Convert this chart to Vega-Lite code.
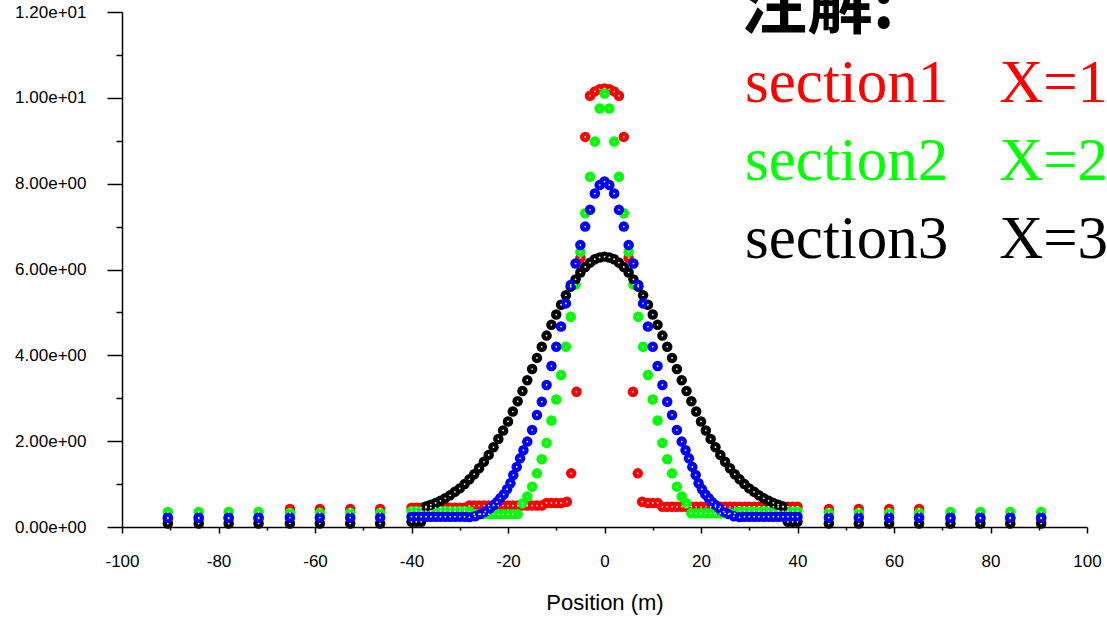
{
"$schema": "https://vega.github.io/schema/vega-lite/v6.json",
"width": 965, "height": 515,
"autosize": {"type": "none"},
"padding": {"left": 122, "top": 12, "right": 20, "bottom": 90},
"background": "white",
"config": {"view": {"stroke": null}},
"data": {"values": [
{"series":"section1","x":-90.5,"y":0.2},{"series":"section1","x":-84.1,"y":0.2},{"series":"section1","x":-77.9,"y":0.2},{"series":"section1","x":-71.7,"y":0.2},
{"series":"section1","x":-65.2,"y":0.42},{"series":"section1","x":-59,"y":0.42},{"series":"section1","x":-52.7,"y":0.42},{"series":"section1","x":-46.5,"y":0.42},
{"series":"section1","x":-40,"y":0.45},{"series":"section1","x":-39,"y":0.45},{"series":"section1","x":-38,"y":0.45},{"series":"section1","x":-37,"y":0.45},{"series":"section1","x":-36,"y":0.45},{"series":"section1","x":-35,"y":0.45},{"series":"section1","x":-34,"y":0.45},{"series":"section1","x":-33,"y":0.45},{"series":"section1","x":-32,"y":0.45},{"series":"section1","x":-31,"y":0.45},{"series":"section1","x":-30,"y":0.45},{"series":"section1","x":-29,"y":0.45},
{"series":"section1","x":-28,"y":0.5},{"series":"section1","x":-27,"y":0.5},{"series":"section1","x":-26,"y":0.5},{"series":"section1","x":-25,"y":0.5},{"series":"section1","x":-24,"y":0.5},{"series":"section1","x":-23,"y":0.5},{"series":"section1","x":-22,"y":0.5},{"series":"section1","x":-21,"y":0.5},{"series":"section1","x":-20,"y":0.5},{"series":"section1","x":-19,"y":0.5},{"series":"section1","x":-18,"y":0.5},{"series":"section1","x":-17,"y":0.5},{"series":"section1","x":-16,"y":0.5},{"series":"section1","x":-15,"y":0.5},{"series":"section1","x":-14,"y":0.5},{"series":"section1","x":-13,"y":0.5},
{"series":"section1","x":-12,"y":0.56},{"series":"section1","x":-11,"y":0.56},{"series":"section1","x":-10,"y":0.56},{"series":"section1","x":-9,"y":0.56},
{"series":"section1","x":-7.8,"y":0.59},{"series":"section1","x":-6.9,"y":1.25},{"series":"section1","x":-5.8,"y":3.15},{"series":"section1","x":-5,"y":6.27},{"series":"section1","x":-4,"y":9.09},{"series":"section1","x":-3,"y":10.05},{"series":"section1","x":-2,"y":10.15},{"series":"section1","x":-1,"y":10.2},{"series":"section1","x":0,"y":10.22},{"series":"section1","x":1,"y":10.2},{"series":"section1","x":2,"y":10.15},{"series":"section1","x":3,"y":10.05},{"series":"section1","x":4,"y":9.09},{"series":"section1","x":5,"y":6.27},{"series":"section1","x":5.9,"y":3.15},{"series":"section1","x":6.9,"y":1.25},{"series":"section1","x":7.8,"y":0.59},
{"series":"section1","x":9,"y":0.56},{"series":"section1","x":10,"y":0.56},{"series":"section1","x":11,"y":0.56},
{"series":"section1","x":12,"y":0.47},{"series":"section1","x":13,"y":0.47},{"series":"section1","x":14,"y":0.47},{"series":"section1","x":15,"y":0.47},{"series":"section1","x":16,"y":0.47},{"series":"section1","x":17,"y":0.47},{"series":"section1","x":18,"y":0.47},{"series":"section1","x":19,"y":0.47},{"series":"section1","x":20,"y":0.47},{"series":"section1","x":21,"y":0.47},{"series":"section1","x":22,"y":0.47},{"series":"section1","x":23,"y":0.47},{"series":"section1","x":24,"y":0.47},{"series":"section1","x":25,"y":0.47},{"series":"section1","x":26,"y":0.47},{"series":"section1","x":27,"y":0.47},{"series":"section1","x":28,"y":0.47},{"series":"section1","x":29,"y":0.47},{"series":"section1","x":30,"y":0.47},{"series":"section1","x":31,"y":0.47},{"series":"section1","x":32,"y":0.47},{"series":"section1","x":33,"y":0.47},{"series":"section1","x":34,"y":0.47},{"series":"section1","x":35,"y":0.47},{"series":"section1","x":36,"y":0.47},{"series":"section1","x":37,"y":0.47},{"series":"section1","x":38,"y":0.47},{"series":"section1","x":39,"y":0.47},{"series":"section1","x":40,"y":0.47},
{"series":"section1","x":46.5,"y":0.42},{"series":"section1","x":52.7,"y":0.42},{"series":"section1","x":59,"y":0.42},{"series":"section1","x":65.2,"y":0.42},
{"series":"section1","x":71.7,"y":0.2},{"series":"section1","x":77.9,"y":0.2},{"series":"section1","x":84.1,"y":0.2},{"series":"section1","x":90.5,"y":0.2},

{"series":"section2","x":-90.5,"y":0.35},{"series":"section2","x":-84.1,"y":0.35},{"series":"section2","x":-77.9,"y":0.35},{"series":"section2","x":-71.7,"y":0.35},
{"series":"section2","x":-65.2,"y":0.33},{"series":"section2","x":-59,"y":0.33},{"series":"section2","x":-52.7,"y":0.33},{"series":"section2","x":-46.5,"y":0.33},
{"series":"section2","x":-40,"y":0.37},{"series":"section2","x":-39,"y":0.37},{"series":"section2","x":-38,"y":0.37},{"series":"section2","x":-37,"y":0.37},{"series":"section2","x":-36,"y":0.37},{"series":"section2","x":-35,"y":0.37},{"series":"section2","x":-34,"y":0.37},{"series":"section2","x":-33,"y":0.37},{"series":"section2","x":-32,"y":0.37},{"series":"section2","x":-31,"y":0.37},{"series":"section2","x":-30,"y":0.37},{"series":"section2","x":-29,"y":0.37},{"series":"section2","x":-28,"y":0.37},
{"series":"section2","x":-27,"y":0.3},{"series":"section2","x":-26,"y":0.3},{"series":"section2","x":-25,"y":0.3},{"series":"section2","x":-24,"y":0.3},{"series":"section2","x":-23,"y":0.3},{"series":"section2","x":-22,"y":0.3},{"series":"section2","x":-21,"y":0.3},{"series":"section2","x":-20,"y":0.3},{"series":"section2","x":-19,"y":0.3},{"series":"section2","x":-18,"y":0.3},
{"series":"section2","x":-17,"y":0.55},{"series":"section2","x":-16,"y":0.71},{"series":"section2","x":-15,"y":0.94},{"series":"section2","x":-14,"y":1.25},{"series":"section2","x":-13,"y":1.58},{"series":"section2","x":-12,"y":1.96},{"series":"section2","x":-11,"y":2.48},{"series":"section2","x":-10,"y":2.97},{"series":"section2","x":-9,"y":3.54},{"series":"section2","x":-8,"y":4.2},{"series":"section2","x":-7,"y":4.9},{"series":"section2","x":-6,"y":5.65},{"series":"section2","x":-5,"y":6.41},{"series":"section2","x":-4,"y":7.31},{"series":"section2","x":-3,"y":8.16},{"series":"section2","x":-2,"y":8.98},{"series":"section2","x":-1,"y":9.75},
{"series":"section2","x":0,"y":10.1},
{"series":"section2","x":1,"y":9.75},{"series":"section2","x":2,"y":8.98},{"series":"section2","x":3,"y":8.16},{"series":"section2","x":4,"y":7.31},{"series":"section2","x":5,"y":6.41},{"series":"section2","x":6,"y":5.65},{"series":"section2","x":7,"y":4.9},{"series":"section2","x":8,"y":4.2},{"series":"section2","x":9,"y":3.54},{"series":"section2","x":10,"y":2.97},{"series":"section2","x":11,"y":2.48},{"series":"section2","x":12,"y":1.96},{"series":"section2","x":13,"y":1.58},{"series":"section2","x":14,"y":1.25},{"series":"section2","x":15,"y":0.94},{"series":"section2","x":16,"y":0.71},{"series":"section2","x":17,"y":0.55},
{"series":"section2","x":18,"y":0.32},{"series":"section2","x":19,"y":0.32},{"series":"section2","x":20,"y":0.32},{"series":"section2","x":21,"y":0.32},{"series":"section2","x":22,"y":0.32},{"series":"section2","x":23,"y":0.32},{"series":"section2","x":24,"y":0.32},{"series":"section2","x":25,"y":0.32},{"series":"section2","x":26,"y":0.32},{"series":"section2","x":27,"y":0.32},
{"series":"section2","x":28,"y":0.37},{"series":"section2","x":29,"y":0.37},{"series":"section2","x":30,"y":0.37},{"series":"section2","x":31,"y":0.37},{"series":"section2","x":32,"y":0.37},{"series":"section2","x":33,"y":0.37},{"series":"section2","x":34,"y":0.37},{"series":"section2","x":35,"y":0.37},{"series":"section2","x":36,"y":0.37},{"series":"section2","x":37,"y":0.37},{"series":"section2","x":38,"y":0.37},{"series":"section2","x":39,"y":0.37},{"series":"section2","x":40,"y":0.37},
{"series":"section2","x":46.5,"y":0.33},{"series":"section2","x":52.7,"y":0.33},{"series":"section2","x":59,"y":0.33},{"series":"section2","x":65.2,"y":0.33},
{"series":"section2","x":71.7,"y":0.35},{"series":"section2","x":77.9,"y":0.35},{"series":"section2","x":84.1,"y":0.35},{"series":"section2","x":90.5,"y":0.35},

{"series":"section3","x":-90.5,"y":0.08},{"series":"section3","x":-84.1,"y":0.08},{"series":"section3","x":-77.9,"y":0.08},{"series":"section3","x":-71.7,"y":0.08},{"series":"section3","x":-65.2,"y":0.08},{"series":"section3","x":-59,"y":0.08},{"series":"section3","x":-52.7,"y":0.08},{"series":"section3","x":-46.5,"y":0.08},
{"series":"section3","x":-40,"y":0.12},{"series":"section3","x":-39,"y":0.12},{"series":"section3","x":-38,"y":0.12},
{"series":"section3","x":-37,"y":0.48},{"series":"section3","x":-36,"y":0.52},{"series":"section3","x":-35,"y":0.56},{"series":"section3","x":-34,"y":0.61},{"series":"section3","x":-33,"y":0.67},{"series":"section3","x":-32,"y":0.74},{"series":"section3","x":-31,"y":0.82},{"series":"section3","x":-30,"y":0.9},{"series":"section3","x":-29,"y":1.0},{"series":"section3","x":-28,"y":1.11},{"series":"section3","x":-27,"y":1.23},{"series":"section3","x":-26,"y":1.37},{"series":"section3","x":-25,"y":1.52},{"series":"section3","x":-24,"y":1.68},{"series":"section3","x":-23,"y":1.86},{"series":"section3","x":-22,"y":2.05},{"series":"section3","x":-21,"y":2.25},{"series":"section3","x":-20,"y":2.46},{"series":"section3","x":-19,"y":2.69},{"series":"section3","x":-18,"y":2.93},{"series":"section3","x":-17,"y":3.17},{"series":"section3","x":-16,"y":3.42},{"series":"section3","x":-15,"y":3.68},{"series":"section3","x":-14,"y":3.94},{"series":"section3","x":-13,"y":4.2},{"series":"section3","x":-12,"y":4.46},{"series":"section3","x":-11,"y":4.71},{"series":"section3","x":-10,"y":4.95},{"series":"section3","x":-9,"y":5.18},{"series":"section3","x":-8,"y":5.4},{"series":"section3","x":-7,"y":5.6},{"series":"section3","x":-6,"y":5.77},{"series":"section3","x":-5,"y":5.93},{"series":"section3","x":-4,"y":6.06},{"series":"section3","x":-3,"y":6.16},{"series":"section3","x":-2,"y":6.24},{"series":"section3","x":-1,"y":6.28},
{"series":"section3","x":0,"y":6.3},
{"series":"section3","x":1,"y":6.28},{"series":"section3","x":2,"y":6.24},{"series":"section3","x":3,"y":6.16},{"series":"section3","x":4,"y":6.06},{"series":"section3","x":5,"y":5.93},{"series":"section3","x":6,"y":5.77},{"series":"section3","x":7,"y":5.6},{"series":"section3","x":8,"y":5.4},{"series":"section3","x":9,"y":5.18},{"series":"section3","x":10,"y":4.95},{"series":"section3","x":11,"y":4.71},{"series":"section3","x":12,"y":4.46},{"series":"section3","x":13,"y":4.2},{"series":"section3","x":14,"y":3.94},{"series":"section3","x":15,"y":3.68},{"series":"section3","x":16,"y":3.42},{"series":"section3","x":17,"y":3.17},{"series":"section3","x":18,"y":2.93},{"series":"section3","x":19,"y":2.69},{"series":"section3","x":20,"y":2.46},{"series":"section3","x":21,"y":2.25},{"series":"section3","x":22,"y":2.05},{"series":"section3","x":23,"y":1.86},{"series":"section3","x":24,"y":1.68},{"series":"section3","x":25,"y":1.52},{"series":"section3","x":26,"y":1.37},{"series":"section3","x":27,"y":1.23},{"series":"section3","x":28,"y":1.11},{"series":"section3","x":29,"y":1.0},{"series":"section3","x":30,"y":0.9},{"series":"section3","x":31,"y":0.82},{"series":"section3","x":32,"y":0.74},{"series":"section3","x":33,"y":0.67},{"series":"section3","x":34,"y":0.61},{"series":"section3","x":35,"y":0.56},{"series":"section3","x":36,"y":0.52},{"series":"section3","x":37,"y":0.48},
{"series":"section3","x":38,"y":0.12},{"series":"section3","x":39,"y":0.12},{"series":"section3","x":40,"y":0.12},
{"series":"section3","x":46.5,"y":0.08},{"series":"section3","x":52.7,"y":0.08},{"series":"section3","x":59,"y":0.08},{"series":"section3","x":65.2,"y":0.08},{"series":"section3","x":71.7,"y":0.08},{"series":"section3","x":77.9,"y":0.08},{"series":"section3","x":84.1,"y":0.08},{"series":"section3","x":90.5,"y":0.08},

{"series":"section4","x":-90.5,"y":0.22},{"series":"section4","x":-84.1,"y":0.22},{"series":"section4","x":-77.9,"y":0.22},{"series":"section4","x":-71.7,"y":0.22},{"series":"section4","x":-65.2,"y":0.22},{"series":"section4","x":-59,"y":0.22},{"series":"section4","x":-52.7,"y":0.22},{"series":"section4","x":-46.5,"y":0.22},
{"series":"section4","x":-40,"y":0.24},{"series":"section4","x":-39,"y":0.24},{"series":"section4","x":-38,"y":0.24},{"series":"section4","x":-37,"y":0.24},{"series":"section4","x":-36,"y":0.24},{"series":"section4","x":-35,"y":0.24},{"series":"section4","x":-34,"y":0.24},{"series":"section4","x":-33,"y":0.24},{"series":"section4","x":-32,"y":0.24},{"series":"section4","x":-31,"y":0.24},{"series":"section4","x":-30,"y":0.24},{"series":"section4","x":-29,"y":0.24},
{"series":"section4","x":-28,"y":0.23},{"series":"section4","x":-26.8,"y":0.25},{"series":"section4","x":-25.7,"y":0.3},{"series":"section4","x":-24.7,"y":0.36},{"series":"section4","x":-23.8,"y":0.43},{"series":"section4","x":-23,"y":0.51},{"series":"section4","x":-22.3,"y":0.58},{"series":"section4","x":-21.6,"y":0.67},{"series":"section4","x":-20.9,"y":0.76},{"series":"section4","x":-20.2,"y":0.88},{"series":"section4","x":-19.5,"y":1.02},{"series":"section4","x":-18.9,"y":1.21},{"series":"section4","x":-18.2,"y":1.4},{"series":"section4","x":-17.5,"y":1.6},{"series":"section4","x":-16.8,"y":1.79},{"series":"section4","x":-16,"y":1.99},{"series":"section4","x":-15,"y":2.26},{"series":"section4","x":-14,"y":2.61},{"series":"section4","x":-13,"y":2.92},{"series":"section4","x":-12,"y":3.31},{"series":"section4","x":-11,"y":3.75},{"series":"section4","x":-10,"y":4.2},{"series":"section4","x":-9,"y":4.67},{"series":"section4","x":-8,"y":5.21},{"series":"section4","x":-7,"y":5.64},{"series":"section4","x":-6,"y":6.14},{"series":"section4","x":-5,"y":6.57},{"series":"section4","x":-4,"y":7.0},{"series":"section4","x":-3,"y":7.39},{"series":"section4","x":-2,"y":7.77},{"series":"section4","x":-1,"y":7.97},
{"series":"section4","x":0,"y":8.05},
{"series":"section4","x":1,"y":7.97},{"series":"section4","x":2,"y":7.77},{"series":"section4","x":3,"y":7.39},{"series":"section4","x":4,"y":7.0},{"series":"section4","x":5,"y":6.57},{"series":"section4","x":6,"y":6.14},{"series":"section4","x":7,"y":5.64},{"series":"section4","x":8,"y":5.21},{"series":"section4","x":9,"y":4.67},{"series":"section4","x":10,"y":4.2},{"series":"section4","x":11,"y":3.75},{"series":"section4","x":12,"y":3.31},{"series":"section4","x":13,"y":2.92},{"series":"section4","x":14,"y":2.61},{"series":"section4","x":15,"y":2.26},{"series":"section4","x":16,"y":1.99},{"series":"section4","x":16.8,"y":1.79},{"series":"section4","x":17.5,"y":1.6},{"series":"section4","x":18.2,"y":1.4},{"series":"section4","x":18.9,"y":1.21},{"series":"section4","x":19.5,"y":1.02},{"series":"section4","x":20.2,"y":0.88},{"series":"section4","x":20.9,"y":0.76},{"series":"section4","x":21.6,"y":0.67},{"series":"section4","x":22.3,"y":0.58},{"series":"section4","x":23,"y":0.51},{"series":"section4","x":23.8,"y":0.43},{"series":"section4","x":24.7,"y":0.36},{"series":"section4","x":25.7,"y":0.3},{"series":"section4","x":26.8,"y":0.25},{"series":"section4","x":28,"y":0.23},
{"series":"section4","x":29,"y":0.24},{"series":"section4","x":30,"y":0.24},{"series":"section4","x":31,"y":0.24},{"series":"section4","x":32,"y":0.24},{"series":"section4","x":33,"y":0.24},{"series":"section4","x":34,"y":0.24},{"series":"section4","x":35,"y":0.24},{"series":"section4","x":36,"y":0.24},{"series":"section4","x":37,"y":0.24},{"series":"section4","x":38,"y":0.24},{"series":"section4","x":39,"y":0.24},{"series":"section4","x":40,"y":0.24},
{"series":"section4","x":46.5,"y":0.22},{"series":"section4","x":52.7,"y":0.22},{"series":"section4","x":59,"y":0.22},{"series":"section4","x":65.2,"y":0.22},{"series":"section4","x":71.7,"y":0.22},{"series":"section4","x":77.9,"y":0.22},{"series":"section4","x":84.1,"y":0.22},{"series":"section4","x":90.5,"y":0.22}
]},
"encoding": {
  "x": {"field": "x", "type": "quantitative",
    "scale": {"domain": [-100, 100], "nice": false, "zero": false},
    "axis": {"values": [-100,-90,-80,-70,-60,-50,-40,-30,-20,-10,0,10,20,30,40,50,60,70,80,90,100],
      "labelExpr": "datum.value % 20 === 0 ? ('' + datum.value) : ''",
      "title": "Position (m)", "grid": false,
      "domainColor": "black", "domainWidth": 1.5, "tickColor": "black", "tickWidth": 1.5,
      "tickSize": {"condition": {"test": "datum.value % 20 === 0", "value": 6}, "value": 3},
      "labelFont": "Liberation Sans", "labelFontSize": 17, "labelColor": "black", "labelPadding": 20,
      "labelFlush": false, "labelOverlap": false, "labelBound": false,
      "titleFont": "Liberation Sans", "titleFontSize": 22, "titleFontWeight": "normal", "titleColor": "black", "titlePadding": 23}},
  "y": {"field": "y", "type": "quantitative",
    "scale": {"domain": [0, 12], "nice": false, "zero": false},
    "axis": {"values": [0,1,2,3,4,5,6,7,8,9,10,11,12],
      "labelExpr": "datum.value % 2 === 0 ? replace(format(datum.value, '.2e'), 'e+', 'e+0') : ''",
      "title": null, "grid": false,
      "domainColor": "black", "domainWidth": 1.5, "tickColor": "black", "tickWidth": 1.5,
      "tickSize": {"condition": {"test": "datum.value % 2 === 0", "value": 15}, "value": 6},
      "labelFont": "Liberation Sans", "labelFontSize": 17, "labelColor": "black", "labelPadding": 21,
      "labelFlush": false, "labelOverlap": false, "labelBound": false}}
},
"layer": [
  {"mark": {"type": "point", "filled": true, "shape": "circle", "size": 110, "opacity": 1},
   "encoding": {
    "color": {"field": "series", "type": "nominal",
      "scale": {"domain": ["section1", "section2", "section3", "section4"], "range": ["#ff0000", "#00ff00", "#000000", "#0000ff"]},
      "legend": {"values": ["section1", "section2", "section3"], "orient": "none", "legendX": 619, "legendY": -36,
        "title": "注解:", "titleFont": "Noto Sans CJK SC", "titleFontSize": 66, "titleFontWeight": "bold", "titleColor": "black", "titlePadding": 11, "titleLimit": 0,
        "labelFont": "Liberation Serif", "labelFontSize": 61, "labelLimit": 0, "labelOffset": -57,
        "symbolSize": 0, "symbolOpacity": 0, "symbolStrokeWidth": 0, "rowPadding": 16, "padding": 0,
        "labelExpr": "datum.value + '\u00a0\u00a0\u00a0\u200aX=' + (datum.value === 'section1' ? '1' : datum.value === 'section2' ? '2' : '3')",
        "encode": {"labels": {"update": {"fill": {"signal": "datum.value === 'section1' ? '#ff0000' : datum.value === 'section2' ? '#00ff00' : '#000000'"}}}}}}
   }},
  {"mark": {"type": "point", "filled": true, "shape": "circle", "size": 3, "color": "white", "opacity": 1}}
]
}
